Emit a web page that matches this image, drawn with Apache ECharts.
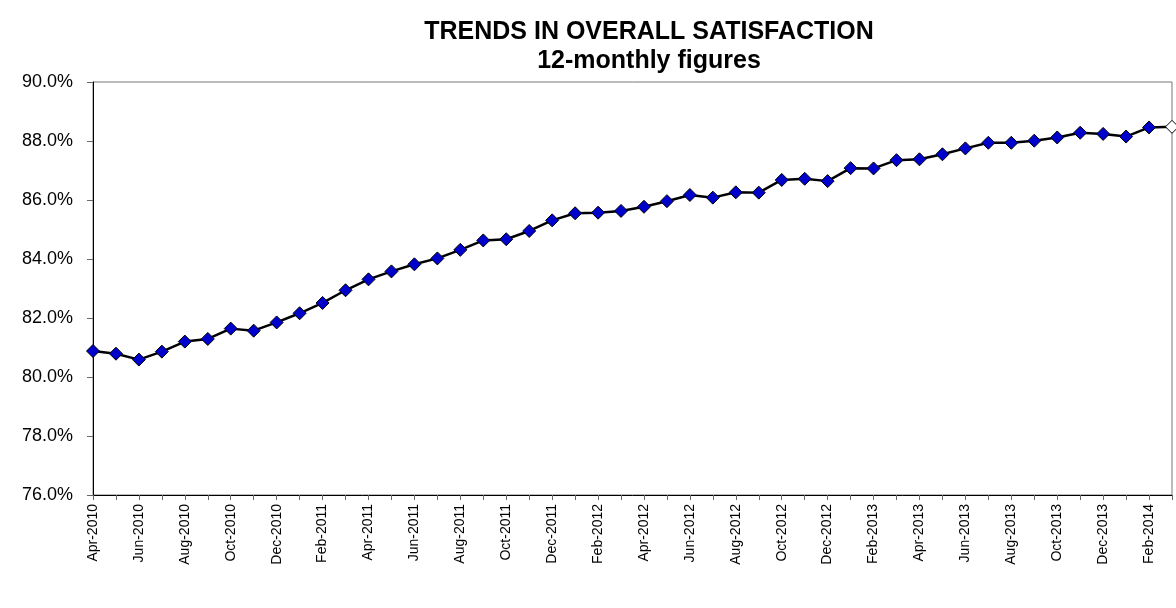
<!DOCTYPE html>
<html>
<head>
<meta charset="utf-8">
<script src="https://cdn.jsdelivr.net/npm/echarts@6/dist/echarts.min.js"></script>
<style>
  html, body { margin: 0; padding: 0; background: #fff; }
  #chart { width: 1176px; height: 608px; }
</style>
</head>
<body>
<div id="chart"></div>
<script>
// 12-monthly rolling figures, Apr-2010 .. Mar-2014
const months = ['Jan','Feb','Mar','Apr','May','Jun','Jul','Aug','Sep','Oct','Nov','Dec'];
const categories = [];
for (let i = 0; i < 48; i++) {
  const m = (3 + i) % 12;
  const y = 2010 + Math.floor((3 + i) / 12);
  categories.push(months[m] + '-' + y);
}
const satisfaction = [
  80.88, 80.79, 80.59, 80.86, 81.20, 81.29, 81.64, 81.57, 81.85, 82.16, 82.51, 82.94,
  83.31, 83.58, 83.82, 84.02, 84.31, 84.63, 84.67, 84.95, 85.31, 85.55, 85.57, 85.63,
  85.77, 85.96, 86.17, 86.08, 86.26, 86.25, 86.68, 86.72, 86.64, 87.08, 87.07, 87.35,
  87.38, 87.55, 87.75, 87.94, 87.94, 88.01, 88.12, 88.28, 88.24, 88.15, 88.46, 88.48
];
const yMin = 76, yMax = 90, yStep = 2;

// last point (latest figure) is drawn hollow
const pointData = satisfaction.map(function (v, i) {
  if (i === satisfaction.length - 1) {
    return { value: v, itemStyle: { color: '#ffffff' } };
  }
  return v;
});

const chart = echarts.init(document.getElementById('chart'));
chart.setOption({
  animation: false,
  title: {
    text: 'TRENDS IN OVERALL SATISFACTION\n12-monthly figures',
    left: 644,
    top: 13,
    textAlign: 'center',
    textStyle: {
      fontFamily: 'Liberation Sans',
      fontSize: 25,
      fontWeight: 'bold',
      color: '#000',
      lineHeight: 29
    }
  },
  grid: {
    left: 93,
    right: 4,
    top: 82,
    bottom: 113,
    show: true,
    borderColor: '#777',
    borderWidth: 1
  },
  xAxis: {
    type: 'category',
    data: categories,
    boundaryGap: false,
    axisLine: { lineStyle: { color: '#000', width: 1 } },
    axisTick: {
      show: true,
      interval: 0,
      length: 5,
      lineStyle: { color: '#666' }
    },
    axisLabel: {
      interval: 1,
      rotate: 90,
      margin: 9,
      color: '#000',
      fontFamily: 'Liberation Sans',
      fontSize: 14
    },
    splitLine: { show: false }
  },
  yAxis: {
    type: 'value',
    min: yMin,
    max: yMax,
    interval: yStep,
    axisLine: { show: true, lineStyle: { color: '#000' } },
    axisTick: { show: true, length: 6, lineStyle: { color: '#666' } },
    axisLabel: {
      color: '#000',
      fontFamily: 'Liberation Sans',
      fontSize: 18,
      margin: 20,
      formatter: function (v) { return v.toFixed(1) + '%'; }
    },
    splitLine: { show: false }
  },
  series: [
    {
      type: 'line',
      data: pointData,
      symbol: 'diamond',
      symbolSize: 13,
      showAllSymbol: true,
      clip: false,
      lineStyle: { color: '#000', width: 2.5 },
      itemStyle: { color: '#0000CC', borderColor: '#000', borderWidth: 1 }
    }
  ]
});
</script>
</body>
</html>
